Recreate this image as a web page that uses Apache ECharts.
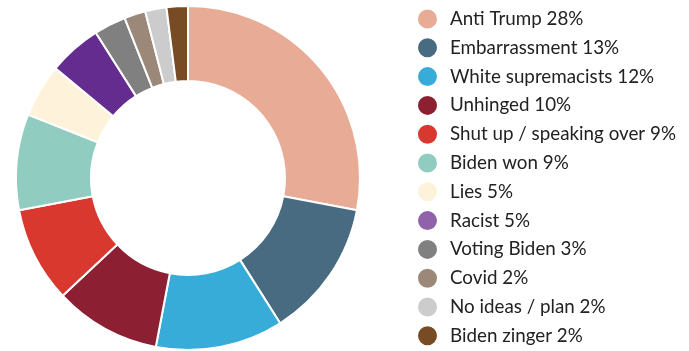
<!DOCTYPE html>
<html><head><meta charset="utf-8">
<script src="https://cdn.jsdelivr.net/npm/echarts@6/dist/echarts.min.js"></script>
<style>html,body{margin:0;padding:0;background:#fff}#c{width:689px;height:351px}</style>
</head><body><div id="c"></div>
<script>
const categories = ["Anti Trump","Embarrassment","White supremacists","Unhinged","Shut up / speaking over","Biden won","Lies","Racist","Voting Biden","Covid","No ideas / plan","Biden zinger"];
const values = [28,13,12,10,9,9,5,5,3,2,2,2];
const sliceColors = ["#e8ab95","#486b82","#38acd9","#8c1f31","#d9382f","#90cdc0","#fef3da","#652c90","#808080","#9c8878","#cccccc","#774b24"];
const legendColors = ["#e8ab95","#486b82","#38acd9","#8c1f31","#d9382f","#90cdc0","#fef3da","#8f62aa","#808080","#9c8878","#cccccc","#774b24"];

const chart = echarts.init(document.getElementById('c'), null, {renderer:'canvas'});
chart.setOption({
  animation:false,
  legend:{
    orient:'vertical', left:416, top:7.5, padding:0, itemWidth:21, itemHeight:21, itemGap:5.8, icon:'circle',
    data: categories.map((n,i)=>({name:n, itemStyle:{color:legendColors[i]}})),
    formatter: name => name + ' ' + values[categories.indexOf(name)] + '%',
    textStyle:{fontFamily:'Lato', fontSize:18.8, lineHeight:21, color:'#222', padding:[0,0,0,7]}
  },
  series:[{
    type:'pie', center:[188,178], radius:[97,172], startAngle:90, clockwise:true,
    label:{show:false}, labelLine:{show:false}, emphasis:{disabled:true},
    itemStyle:{borderColor:'#fff', borderWidth:2},
    data: categories.map((n,i)=>({name:n, value:values[i], itemStyle:{color:sliceColors[i]}}))
  }]
});
</script></body></html>
